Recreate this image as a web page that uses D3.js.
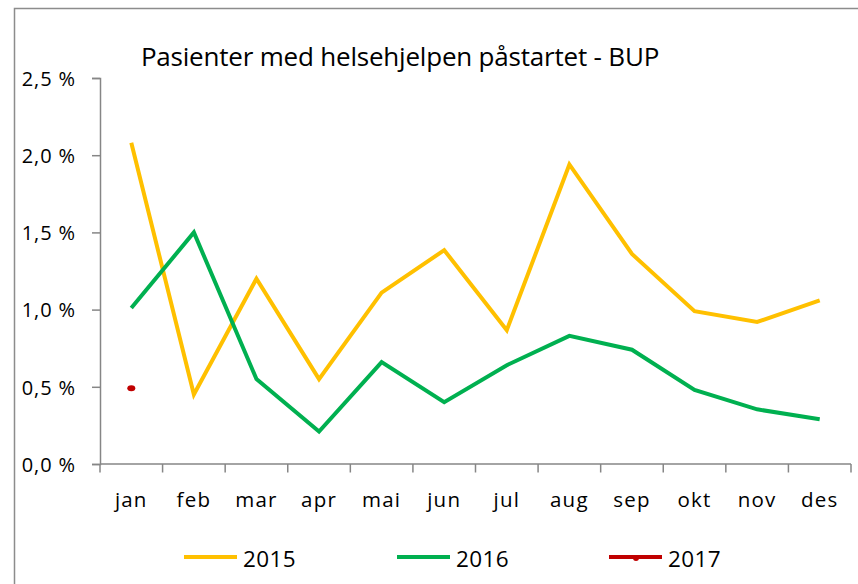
<!DOCTYPE html>
<html>
<head>
<meta charset="utf-8">
<script src="https://cdn.jsdelivr.net/npm/d3@7"></script>
<style>
  html, body { margin: 0; padding: 0; background: #fff; }
  svg { display: block; }
  text { font-family: "Open Sans", sans-serif; fill: #000; }
</style>
</head>
<body>
<svg id="chart" width="858" height="584"></svg>
<script>
const months = ["jan","feb","mar","apr","mai","jun","jul","aug","sep","okt","nov","des"];
const values2015 = [2.08, 0.45, 1.20, 0.55, 1.11, 1.385, 0.867, 1.94, 1.36, 0.99, 0.92, 1.06];
const values2016 = [1.01, 1.50, 0.55, 0.21, 0.66, 0.40, 0.64, 0.83, 0.74, 0.48, 0.354, 0.29];
const values2017 = [0.49];
const yTicks = [0, 0.5, 1.0, 1.5, 2.0, 2.5];
const seriesNames = ["2015", "2016", "2017"];
const title = "Pasienter med helsehjelpen påstartet - BUP";

const colors = {"2015": "#FFC000", "2016": "#00B050", "2017": "#C00000"};
const series = [
  {name: "2015", values: values2015},
  {name: "2016", values: values2016},
  {name: "2017", values: values2017}
];

const svg = d3.select("#chart");

// outer chart border
svg.append("rect")
  .attr("x", 14.5).attr("y", 8.5)
  .attr("width", 900).attr("height", 700)
  .attr("fill", "none").attr("stroke", "#8c8c8c").attr("stroke-width", 1.5);

const x0 = 100, x1 = 851, yTop = 78, yBot = 464;

const x = d3.scaleBand().domain(months).range([x0, x1]).paddingInner(0).paddingOuter(0);
const y = d3.scaleLinear().domain([0, 2.5]).range([yBot, yTop]);

const fmt = v => d3.format(".1f")(v).replace(".", ",") + " %";

// y axis
const yAxis = svg.append("g")
  .attr("transform", `translate(${x0},0)`)
  .call(d3.axisLeft(y).tickValues(yTicks).tickSize(8).tickPadding(16).tickFormat(fmt));
yAxis.attr("font-size", null).attr("font-family", null);
yAxis.select(".domain").attr("stroke", "#868686").attr("stroke-width", 1.5);
yAxis.selectAll(".tick line").attr("stroke", "#868686").attr("stroke-width", 1.5);
yAxis.selectAll(".tick text")
  .style("font-family", "'Open Sans', sans-serif")
  .style("font-size", "20px").attr("fill", "#000").attr("letter-spacing", "0.9px")
  .attr("dy", "0.36em");

// x axis with ticks at category boundaries
const xAxisG = svg.append("g").attr("transform", `translate(0,${yBot})`);
xAxisG.append("line")
  .attr("x1", x0).attr("x2", x1).attr("y1", 0).attr("y2", 0)
  .attr("stroke", "#868686").attr("stroke-width", 1.5);
const boundaries = months.map(m => x(m)).concat([x1]);
xAxisG.selectAll("line.tk").data(boundaries).join("line")
  .attr("class", "tk")
  .attr("x1", d => d).attr("x2", d => d).attr("y1", 0).attr("y2", 8.5)
  .attr("stroke", "#868686").attr("stroke-width", 1.5);
xAxisG.selectAll("text").data(months).join("text")
  .attr("x", d => x(d) + x.bandwidth() / 2)
  .attr("y", 43)
  .attr("text-anchor", "middle")
  .style("font-size", "20.5px").attr("letter-spacing", "1.2px")
  .text(d => d);

const cx = i => x(months[i]) + x.bandwidth() / 2;

const line = d3.line().x((d, i) => cx(i)).y(d => y(d));

series.forEach(s => {
  if (s.values.length > 1) {
    svg.append("path")
      .datum(s.values)
      .attr("fill", "none")
      .attr("stroke", colors[s.name])
      .attr("stroke-width", 4)
      .attr("stroke-linejoin", "miter")
      .attr("d", line);
  } else {
    svg.selectAll(null).data(s.values).join("ellipse")
      .attr("cx", (d, i) => cx(i))
      .attr("cy", d => y(d))
      .attr("rx", 4).attr("ry", 3)
      .attr("fill", colors[s.name]);
  }
});

// title
svg.append("text")
  .attr("x", 400).attr("y", 66)
  .attr("text-anchor", "middle")
  .style("font-size", "26px")
  .attr("letter-spacing", "-0.2px")
  .text(title);

// legend
const legendItems = [
  {name: "2015", lx: 184},
  {name: "2016", lx: 397},
  {name: "2017", lx: 609}
];
const lg = svg.append("g");
legendItems.forEach(it => {
  lg.append("line")
    .attr("x1", it.lx).attr("x2", it.lx + 53)
    .attr("y1", 557).attr("y2", 557)
    .attr("stroke", colors[it.name]).attr("stroke-width", 4);
  if (it.name === "2017") {
    lg.append("circle").attr("cx", it.lx + 27).attr("cy", 558).attr("r", 3)
      .attr("fill", colors[it.name]);
  }
  lg.append("text")
    .attr("x", it.lx + 59).attr("y", 567)
    .style("font-size", "22.5px")
    .attr("letter-spacing", "0.4px")
    .text(it.name);
});
</script>
</body>
</html>
